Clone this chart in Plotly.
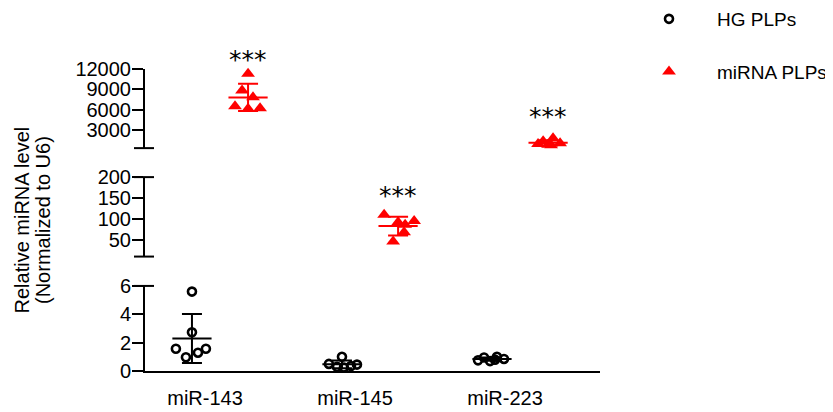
import plotly.graph_objects as go
import numpy as np

# ---------------- data ----------------
categories = ["miR-143", "miR-145", "miR-223"]
series_names = ["HG PLPs", "miRNA PLPs"]
y_title_lines = ["Relative miRNA level", "(Normalized to U6)"]
hg_values = [
    [5.6, 2.73, 1.57, 1.57, 1.29, 0.97],
    [1.0, 0.5, 0.3, 0.25, 0.35, 0.45],
    [0.95, 1.0, 0.85, 0.75, 0.7, 0.8],
]
mirna_values = [
    [11300, 8800, 7800, 6500, 6100, 6200],
    [110, 95, 92, 86, 68, 46],
    [1750, 1300, 1000, 900, 800, 700],
]
significance = ["***", "***", "***"]
# y positions of the significance marks (data units of the segment they sit in)
sig_y = [12000, 162, 5223]

# broken y-axis segments (bottom, middle, top)
seg_ranges = [[0, 6], [10, 200], [286, 12000]]
seg_ticks = [[0, 2, 4, 6], [50, 100, 150, 200], [3000, 6000, 9000, 12000]]

# ---------------- layout helpers (positions / styles) ----------------
hg_shift, mi_shift = -0.087, 0.287
hg_jitter = [
    [0, 0, -0.107, 0.093, 0.04, -0.04],
    [0, -0.087, -0.033, 0.013, 0.06, 0.1],
    [-0.053, 0.033, 0.08, -0.093, -0.013, 0.02],
]
mi_jitter = [
    [0, -0.04, 0.033, -0.087, 0, 0.08],
    [-0.093, 0.107, 0, 0.047, 0.04, -0.033],
    [0.033, -0.033, 0.08, -0.067, 0, 0.02],
]
sig_shift = [10, -2, -2]
title_x_px = [13.5, 35]          # centres of the two title lines (figure px)
seg_domains = [[0, 0.2817], [0.3789, 0.642], [0.738, 1.0]]
yrefs = ["y", "y2", "y3"]
FONT = "Liberation Sans, Arial, sans-serif"
RED = "#FF0000"
W, H = 833, 412
PLOT_L, PLOT_T = 137, 61
PLOT_W, PLOT_H = 455, 302


def seg_of(v):
    for k, (lo, hi) in enumerate(seg_ranges):
        if v <= hi * 1.05:
            return k
    return len(seg_ranges) - 1


fig = go.Figure()

groups = [
    (series_names[0], hg_values, hg_jitter, hg_shift, "black",
     dict(symbol="circle-open", size=8, color="black", line=dict(width=2.6, color="black"))),
    (series_names[1], mirna_values, mi_jitter, mi_shift, RED,
     dict(symbol="triangle-up", size=12, color=RED, line=dict(width=0))),
]

# mean +/- SD bars first
for name, vals, jit, shift, col, mk in groups:
    for i, v in enumerate(vals):
        arr = np.array(v, dtype=float)
        m, sd = arr.mean(), arr.std(ddof=1)
        k = seg_of(m)
        fig.add_trace(go.Scatter(
            x=[i + shift], y=[m], mode="markers", yaxis=yrefs[k],
            marker=dict(symbol="line-ew", size=28, line=dict(width=2, color=col)),
            error_y=dict(type="data", array=[sd], visible=True, color=col, thickness=2, width=10),
            showlegend=False, hoverinfo="skip", cliponaxis=False,
        ))

# individual points
for gi, (name, vals, jit, shift, col, mk) in enumerate(groups):
    first = True
    for i, v in enumerate(vals):
        k = seg_of(max(v))
        xs = [i + shift + j for j in jit[i]]
        fig.add_trace(go.Scatter(
            x=xs, y=v, mode="markers", yaxis=yrefs[k], marker=mk, name=name,
            legendgroup=name, showlegend=first, cliponaxis=False,
        ))
        first = False

# significance stars above miRNA groups
for i, s in enumerate(significance):
    k = seg_of(sig_y[i])
    fig.add_annotation(
        x=i + mi_shift, y=sig_y[i], xref="x", yref=yrefs[k], text=s, showarrow=False,
        yanchor="middle", yshift=sig_shift[i],
        font=dict(family="DejaVu Sans", size=25, color="black"),
    )

axis_common = dict(
    showline=True, linewidth=2, linecolor="black", ticks="outside", ticklen=11, tickwidth=2,
    tickcolor="black", showgrid=False, zeroline=False, ticklabelstandoff=-3,
    tickfont=dict(family=FONT, size=20, color="black"), anchor="x",
)
layout_axes = {}
for k in range(3):
    key = "yaxis" if k == 0 else f"yaxis{k + 1}"
    layout_axes[key] = dict(axis_common, domain=seg_domains[k], range=seg_ranges[k],
                            tickvals=seg_ticks[k], ticktext=[str(t) for t in seg_ticks[k]])

# break caps at segment ends
shapes = []
for yref, yp in [("y domain", 1), ("y2 domain", 0), ("y2 domain", 1), ("y3 domain", 0)]:
    shapes.append(dict(type="line", xref="paper", yref=yref, x0=-11 / PLOT_W, x1=9 / PLOT_W,
                       y0=yp, y1=yp, line=dict(color="black", width=2)))

# page body has an 8px margin -> compensate in the figure margins
fig.update_layout(
    width=W, height=H,
    margin=dict(l=PLOT_L, r=W - PLOT_L - PLOT_W, t=PLOT_T, b=H - PLOT_T - PLOT_H, autoexpand=False),
    paper_bgcolor="white", plot_bgcolor="white",
    font=dict(family=FONT, size=19, color="black"),
    xaxis=dict(
        range=[-0.4, 2.633], tickvals=[0, 1, 2], ticktext=categories,
        showline=True, linewidth=2, linecolor="black", ticks="", showgrid=False, zeroline=False,
        ticklabelstandoff=8,
        tickfont=dict(family=FONT, size=20, color="black"), anchor="y",
    ),
    shapes=shapes,
    legend=dict(
        x=(824 - PLOT_L) / PLOT_W, y=1 + (PLOT_T + 8) / PLOT_H,
        xanchor="right", yanchor="top", traceorder="grouped",
        tracegroupgap=25, itemwidth=86, font=dict(family=FONT, size=19, color="black"),
        bgcolor="rgba(0,0,0,0)",
    ),
    **layout_axes,
)

for line, xp in zip(y_title_lines, title_x_px):
    fig.add_annotation(
        x=(xp - PLOT_L) / PLOT_W, y=0.5, xref="paper", yref="paper",
        xanchor="center", yanchor="middle",
        text=line, textangle=-90, showarrow=False,
        font=dict(family=FONT, size=20, color="black"),
    )

fig.write_html("out.html")
